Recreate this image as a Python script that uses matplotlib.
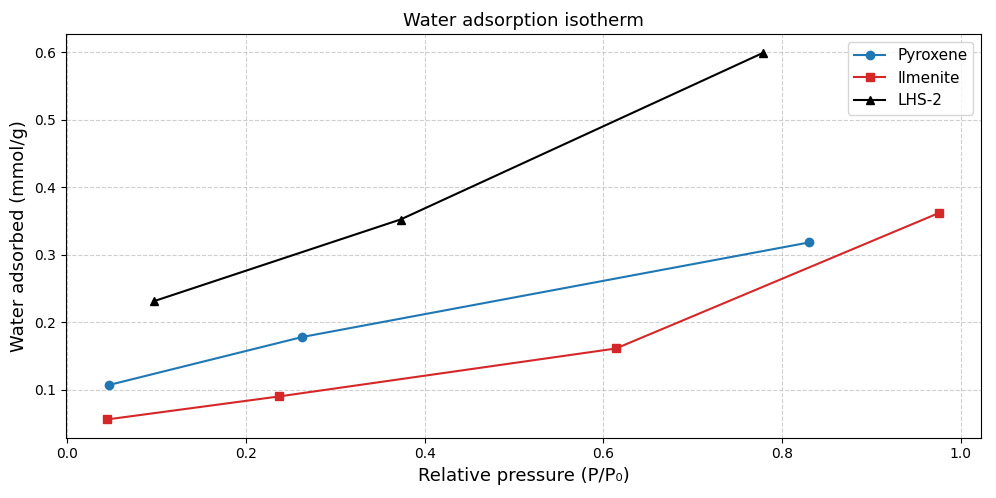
import matplotlib.pyplot as plt
import numpy as np

# Relative pressure (P/P0) and water adsorbed (mmol/g)
pyroxene_p = [0.047, 0.263, 0.830]
pyroxene_w = [0.107, 0.178, 0.318]
ilmenite_p = [0.045, 0.237, 0.614, 0.976]
ilmenite_w = [0.056, 0.090, 0.161, 0.362]
lhs2_p = [0.097, 0.373, 0.779]
lhs2_w = [0.231, 0.352, 0.599]

fig, ax = plt.subplots(figsize=(9.96, 4.98), dpi=100)

ax.plot(pyroxene_p, pyroxene_w, '-o', color='#1f77b4', label='Pyroxene', markersize=6)
ax.plot(ilmenite_p, ilmenite_w, '-s', color='#d62728', label='Ilmenite', markersize=6)
ax.plot(lhs2_p, lhs2_w, '-^', color='black', label='LHS-2', markersize=6)

ax.set_title('Water adsorption isotherm', fontsize=13)
ax.set_xlabel('Relative pressure (P/P\u2080)', fontsize=13)
ax.set_ylabel('Water adsorbed (mmol/g)', fontsize=13)
ax.grid(True, linestyle='--', alpha=0.6)
ax.legend(fontsize=11)

fig.subplots_adjust(left=0.066, right=0.985, top=0.931, bottom=0.121)
fig.savefig('out.png', dpi=100)
